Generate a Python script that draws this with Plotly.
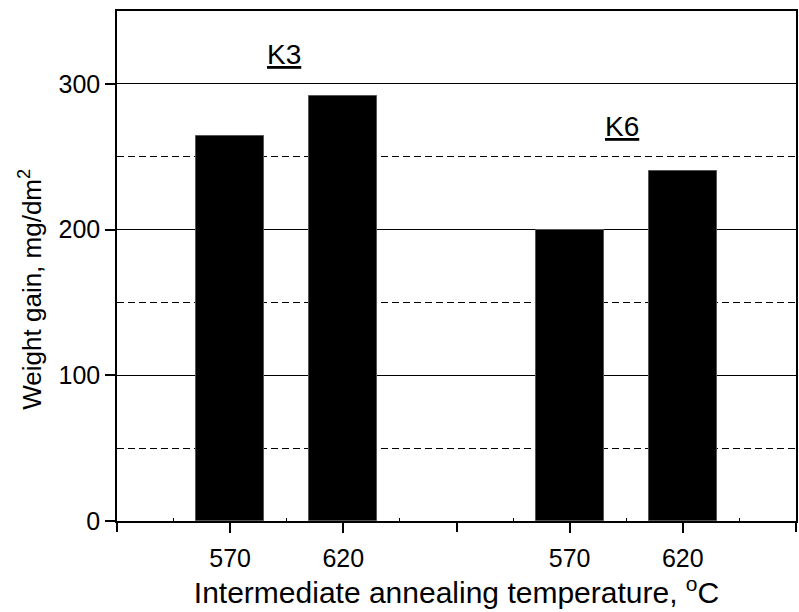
import plotly.graph_objects as go

# Data
positions = [1, 2, 4, 5]
weight_gain = [264, 292, 200, 240]
label_tick_vals = [1, 2, 4, 5]
label_tick_text = ["570", "620", "570", "620"]
blank_tick_vals = [0, 3, 6]
minor_tick_vals = [0.5, 1.5, 2.5, 3.5, 4.5, 5.5]
group_labels = ["K3", "K6"]
group_label_x = [1.48, 4.46]
group_label_y = [320, 271]

FONT = "Liberation Sans, Arial, sans-serif"

fig = go.Figure()
fig.add_trace(go.Bar(
    x=positions, y=weight_gain, width=0.6,
    marker=dict(color="black", line=dict(color="#555555", width=1)),
    showlegend=False, hoverinfo="x+y",
))
# empty helper trace so the secondary (unlabelled-tick) axis is drawn
fig.add_trace(go.Scatter(x=[], y=[], xaxis="x2", showlegend=False, hoverinfo="skip"))

for lab, lx, ly in zip(group_labels, group_label_x, group_label_y):
    fig.add_annotation(x=lx, y=ly, xref="x", yref="y", text=f"<u>{lab}</u>",
                       showarrow=False, font=dict(family=FONT, size=28, color="black"),
                       xanchor="center", yanchor="middle")

fig.update_layout(
    width=799, height=612,
    margin=dict(l=117, r=1, t=11, b=91),
    paper_bgcolor="white", plot_bgcolor="white",
    font=dict(family=FONT, color="black", size=25),
    bargap=0,
    xaxis=dict(
        range=[0, 6], tickmode="array", tickvals=label_tick_vals, ticktext=label_tick_text,
        ticks="outside", ticklen=10, tickwidth=1.5, tickcolor="black",
        showline=True, linecolor="black", linewidth=1.5, mirror=True,
        showgrid=False, zeroline=False,
        tickfont=dict(size=25), ticklabelstandoff=4,
        minor=dict(tickvals=minor_tick_vals, ticks="inside", ticklen=3,
                   tickcolor="black", tickwidth=1),
        title=dict(text="Intermediate annealing temperature, <sup>o</sup>C",
                   font=dict(size=30), standoff=6),
    ),
    xaxis2=dict(
        range=[0, 6], overlaying="x", anchor="y", side="bottom",
        tickmode="array", tickvals=blank_tick_vals, showticklabels=False,
        ticks="outside", ticklen=10, tickwidth=1.5, tickcolor="black",
        showline=False, showgrid=False, zeroline=False, fixedrange=True,
    ),
    yaxis=dict(
        range=[0, 350], tickmode="linear", tick0=0, dtick=100,
        ticks="outside", ticklen=10, tickwidth=1.5, tickcolor="black",
        showline=True, linecolor="black", linewidth=1.5, mirror=True,
        showgrid=True, gridcolor="black", gridwidth=1, zeroline=False,
        tickfont=dict(size=25),
        minor=dict(dtick=50, tick0=0, showgrid=True, gridcolor="black", gridwidth=1,
                   griddash="7px,4px", ticks=""),
    ),
)

fig.add_annotation(x=-0.127, y=0.455, xref="paper", yref="paper",
                   text="Weight gain, mg/dm<sup>2</sup>", textangle=-90, showarrow=False,
                   font=dict(family=FONT, size=26, color="black"),
                   xanchor="center", yanchor="middle")

fig.write_html("out.html")
